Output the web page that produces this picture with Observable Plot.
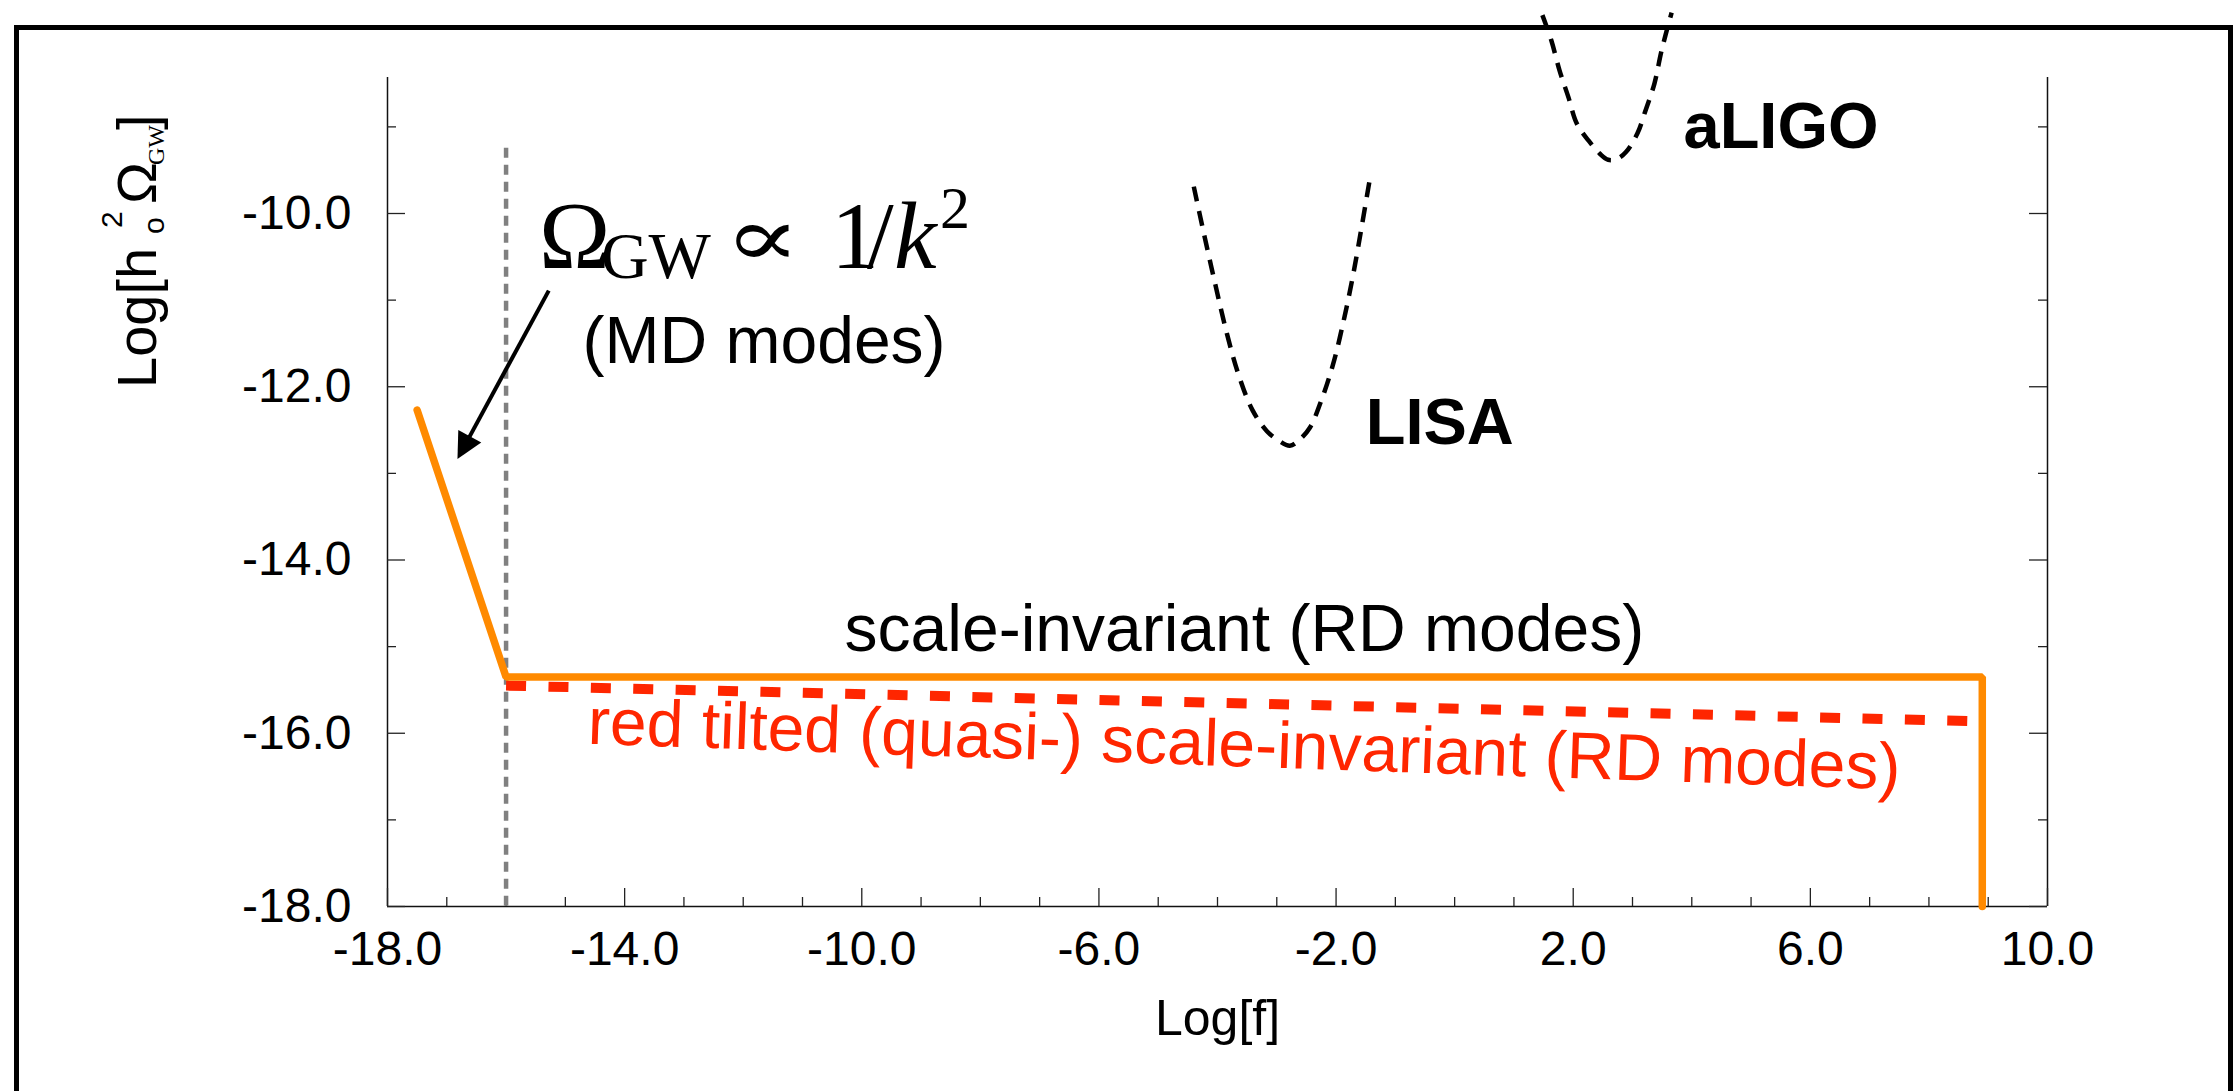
<!DOCTYPE html>
<html>
<head>
<meta charset="utf-8">
<script src="https://cdn.jsdelivr.net/npm/d3@7"></script>
<script src="https://cdn.jsdelivr.net/npm/@observablehq/plot@0.6"></script>
<style>
html, body { margin: 0; padding: 0; background: #fff; overflow: hidden; width: 2235px; height: 1091px; }
#frame { position: absolute; left: 14px; top: 25px; width: 2209px; height: 1200px; border: 5px solid #000; border-bottom: none; }
#chart { position: absolute; left: 0; top: 0; }
svg { overflow: visible; }
</style>
</head>
<body>
<div id="frame"></div>
<div id="chart"></div>
<script>
// ---- tick values ----
const xMajor = [-18, -14, -10, -6, -2, 2, 6, 10];
const xMinor = [-17, -16, -15, -13, -12, -11, -9, -8, -7, -5, -4, -3, -1, 0, 1, 3, 4, 5, 7, 8, 9];
const yMajor = [-18, -16, -14, -12, -10];
const yMinor = [-17, -15, -13, -11, -9];

// ---- series ----
// orange: MD modes (1/k^2) then scale-invariant RD plateau, cut off at high f
const orangeX = [-17.5, -16.0, 8.9, 8.9];
const orangeY = [-12.27, -15.35, -15.35, -18.0];
// red tilted (quasi-) scale-invariant
const redX = [-16.0, 8.75];
const redY = [-15.45, -15.86];
// MD/RD boundary (gray dashed)
const boundaryX = [-16.0, -16.0];
const boundaryY = [-9.24, -18.0];
// LISA sensitivity
const lisaX = [-4.40, -4.23, -4.04, -3.84, -3.65, -3.41, -3.17, -2.97, -2.78, -2.63, -2.44, -2.25, -2.05, -1.86, -1.71, -1.57, -1.44];
const lisaY = [-9.69, -10.23, -10.81, -11.39, -11.85, -12.27, -12.51, -12.62, -12.68, -12.62, -12.47, -12.16, -11.74, -11.20, -10.70, -10.16, -9.64];
// aLIGO sensitivity
const aligoX = [1.48, 1.63, 1.77, 1.92, 2.06, 2.26, 2.45, 2.59, 2.74, 2.89, 3.08, 3.22, 3.37, 3.49, 3.66];
const aligoY = [-7.71, -8.00, -8.35, -8.66, -8.96, -9.16, -9.31, -9.38, -9.37, -9.29, -9.08, -8.81, -8.50, -8.12, -7.68];

// ---- annotation texts ----
const labelMD = "(MD modes)";
const labelRD = "scale-invariant (RD modes)";
const labelRed = "red tilted (quasi-) scale-invariant (RD modes)";
const labelLISA = "LISA";
const labelLIGO = "aLIGO";
const xLabel = "Log[f]";

const zip = (xs, ys) => xs.map((x, i) => ({x, y: ys[i]}));

const W = 2235, H = 1091;
const mL = 387, mR = 188, mT = 77, mB = 185;
const fw = W - mL - mR, fh = H - mT - mB;
const SANS = "Liberation Sans, Arial, Helvetica, sans-serif";
const SERIF = "Liberation Serif, Times New Roman, DejaVu Serif, serif";

const plot = Plot.plot({
  width: W, height: H,
  marginLeft: mL, marginRight: mR, marginTop: mT, marginBottom: mB,
  x: {domain: [-18, 10], axis: null},
  y: {domain: [-18, -8.43], axis: null},
  style: {fontFamily: SANS, background: "transparent", overflow: "visible", color: "#000"},
  marks: [
    // axis lines
    Plot.ruleX([-18, 10], {stroke: "#111", strokeWidth: 1.5}),
    Plot.ruleY([-18], {stroke: "#111", strokeWidth: 1.5}),
    // inward ticks: bottom
    Plot.tickX(xMajor, {x: d => d, insetTop: fh - 18, stroke: "#222", strokeWidth: 1.3}),
    Plot.tickX(xMinor, {x: d => d, insetTop: fh - 9, stroke: "#222", strokeWidth: 1.3}),
    // inward ticks: left
    Plot.tickY(yMajor, {y: d => d, insetRight: fw - 18, stroke: "#222", strokeWidth: 1.3}),
    Plot.tickY(yMinor, {y: d => d, insetRight: fw - 9, stroke: "#222", strokeWidth: 1.3}),
    // inward ticks: right
    Plot.tickY(yMajor, {y: d => d, insetLeft: fw - 18, stroke: "#222", strokeWidth: 1.3}),
    Plot.tickY(yMinor, {y: d => d, insetLeft: fw - 9, stroke: "#222", strokeWidth: 1.3}),
    // tick labels
    Plot.axisX({ticks: xMajor, tickSize: 0, tickPadding: 24, tickFormat: d => d.toFixed(1), fontSize: 48, label: null}),
    Plot.axisY({ticks: yMajor, tickSize: 0, tickPadding: 36, tickFormat: d => d.toFixed(1), fontSize: 48, label: null}),
    // boundary line
    Plot.line(zip(boundaryX, boundaryY), {x: "x", y: "y", stroke: "#808080", strokeWidth: 4.5, strokeDasharray: "10,7", strokeLinecap: "butt"}),
    // detector curves
    Plot.line(zip(lisaX, lisaY), {x: "x", y: "y", curve: "catmull-rom", stroke: "#000", strokeWidth: 4.5, strokeDasharray: "15,10", strokeLinecap: "butt"}),
    Plot.line(zip(aligoX, aligoY), {x: "x", y: "y", curve: "catmull-rom", stroke: "#000", strokeWidth: 4.5, strokeDasharray: "15,10", strokeLinecap: "butt"}),
    // spectra
    Plot.line(zip(redX, redY), {x: "x", y: "y", stroke: "#ff2600", strokeWidth: 10, strokeDasharray: "20,22.4", strokeLinecap: "butt"}),
    Plot.line(zip(orangeX, orangeY), {x: "x", y: "y", stroke: "#ff8a00", strokeWidth: 7.5, strokeLinecap: "round", strokeLinejoin: "miter"}),
    // arrow
    Plot.link([{x1: -15.28, y1: -10.89, x2: -16.73, y2: -12.72}], {x1: "x1", y1: "y1", x2: "x2", y2: "y2", stroke: "#000", strokeWidth: 4, strokeLinecap: "butt", markerEnd: "arrow"}),
    // annotations
    Plot.text([labelMD], {x: -14.71, y: -11.73, text: d => d, textAnchor: "start", lineAnchor: "bottom", fontSize: 66, fill: "#000"}),
    Plot.text([labelRD], {x: -10.29, y: -15.05, text: d => d, textAnchor: "start", lineAnchor: "bottom", fontSize: 66, fill: "#000"}),
    Plot.text([labelRed], {x: -14.63, y: -16.12, text: d => d, textAnchor: "start", lineAnchor: "bottom", fontSize: 66, fill: "#ff2600", rotate: 2}),
    Plot.text([labelLISA], {x: -1.50, y: -12.66, text: d => d, textAnchor: "start", lineAnchor: "bottom", fontSize: 65, fontWeight: "bold", fill: "#000"}),
    Plot.text([labelLIGO], {x: 3.86, y: -9.24, text: d => d, textAnchor: "start", lineAnchor: "bottom", fontSize: 65, fontWeight: "bold", fill: "#000"}),
    Plot.text([xLabel], {x: -4.0, y: -19.48, text: d => d, textAnchor: "middle", lineAnchor: "bottom", fontSize: 50, fill: "#000"})
  ]
});

document.getElementById("chart").appendChild(plot);

// filled arrowhead
d3.select(plot).selectAll("marker").each(function () {
  const m = d3.select(this);
  m.attr("fill", "#000").attr("stroke", "none").attr("markerWidth", 9.33).attr("markerHeight", 9.33).attr("viewBox", "-7 -7 14 14");
  m.select("path").attr("d", "M-5.5,-4.9L4.2,0L-5.5,4.9Z");
});

const sx = plot.scale("x"), sy = plot.scale("y");
const svg = d3.select(plot);

// Omega_GW ∝ 1/k^2 annotation (anchor in data space, pieces offset in px)
{
  const ax = sx.apply(-15.37), ay = sy.apply(-10.635);
  const t = svg.append("text").attr("text-anchor", "start").attr("font-family", SERIF).attr("font-size", 96).attr("fill", "#000");
  t.append("tspan").attr("x", ax - 4).attr("y", ay).text("Ω");
  t.append("tspan").attr("x", ax + 58).attr("y", ay + 10).attr("font-size", 66).text("GW");
  t.append("tspan").attr("x", ax + 288).attr("y", ay).text("1");
  t.append("tspan").attr("x", ax + 324).attr("y", ay).text("/");
  t.append("tspan").attr("x", ax + 351).attr("y", ay).attr("font-style", "italic").text("k");
  t.append("tspan").attr("x", ax + 397).attr("y", ay - 40).attr("font-size", 60).text("2");
  // proportional-to sign, widened like the TeX glyph
  svg.append("text").attr("text-anchor", "start")
    .attr("transform", `translate(${ax + 181},${ay - 2}) scale(1.35,1)`)
    .attr("font-family", "DejaVu Serif, serif").attr("font-size", 84).attr("fill", "#000")
    .text("∝");
}

// y-axis title: Log[h0^2 Ω_GW]
{
  const bx = 156, by = 388;
  const t = svg.append("text")
    .attr("text-anchor", "start")
    .attr("transform", `translate(${bx},${by}) rotate(-90)`)
    .attr("font-family", SANS).attr("font-size", 56).attr("fill", "#000");
  t.append("tspan").attr("x", 0).attr("y", 0).text("Log[h");
  t.append("tspan").attr("x", 154).attr("y", 8).attr("font-size", 30).text("o");
  t.append("tspan").attr("x", 160).attr("y", -34).attr("font-size", 30).text("2");
  t.append("tspan").attr("x", 184).attr("y", 0).text("Ω");
  t.append("tspan").attr("x", 223).attr("y", 8).attr("font-family", SERIF).attr("font-size", 24).text("GW");
  t.append("tspan").attr("x", 258).attr("y", 0).text("]");
}
</script>
</body>
</html>
